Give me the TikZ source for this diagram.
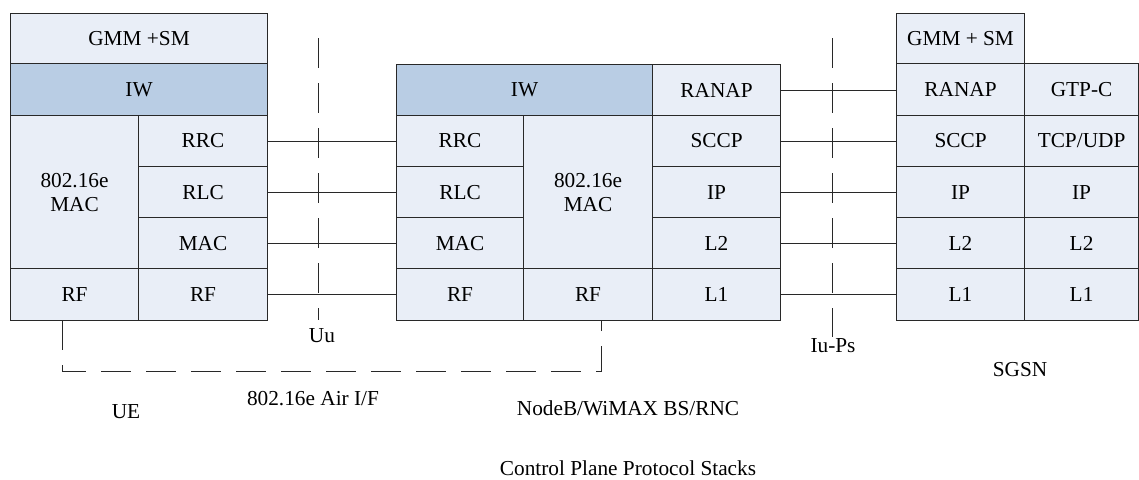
\documentclass[tikz,border=0pt]{standalone}
\usepackage{fontspec}
\setmainfont{Liberation Serif}
\definecolor{cellfill}{RGB}{233,238,247}
\definecolor{iwfill}{RGB}{185,205,228}
\definecolor{edge}{RGB}{40,40,40}
\tikzset{
  txt/.style={font=\fontsize{21.3}{24}\selectfont, inner sep=0pt},
  cell/.style={txt, draw=edge, line width=1.1pt, fill=cellfill, anchor=north west, align=center},
  iwcell/.style={cell, fill=iwfill},
  link/.style={draw=edge, line width=1pt},
  iface/.style={draw=edge, line width=1pt, dash pattern=on 30pt off 15pt},
}
\begin{document}
\begin{tikzpicture}[x=1pt,y=-1pt]
\useasboundingbox (0,0) rectangle (1139,479);
% UE stack
\node[cell, minimum width=257pt, minimum height=50pt] (ue-gmm) at (10,13) {GMM +SM};
\node[iwcell, minimum width=257pt, minimum height=52pt] (ue-iw) at (10,63) {IW};
\node[cell, minimum width=128pt, minimum height=153pt] (ue-mac16) at (10,115) {802.16e\\MAC};
\node[cell, minimum width=129pt, minimum height=51pt] (ue-rrc) at (138,115) {RRC};
\node[cell, minimum width=129pt, minimum height=51pt] (ue-rlc) at (138,166) {RLC};
\node[cell, minimum width=129pt, minimum height=51pt] (ue-mac) at (138,217) {MAC};
\node[cell, minimum width=128pt, minimum height=52pt] (ue-rf1) at (10,268) {RF};
\node[cell, minimum width=129pt, minimum height=52pt] (ue-rf2) at (138,268) {RF};
% NodeB stack
\node[iwcell, minimum width=256pt, minimum height=51pt] (nb-iw) at (396,64) {IW};
\node[cell, minimum width=128pt, minimum height=51pt] (nb-ranap) at (652,64) {RANAP};
\node[cell, minimum width=127pt, minimum height=51pt] (nb-rrc) at (396,115) {RRC};
\node[cell, minimum width=127pt, minimum height=51pt] (nb-rlc) at (396,166) {RLC};
\node[cell, minimum width=127pt, minimum height=51pt] (nb-mac) at (396,217) {MAC};
\node[cell, minimum width=127pt, minimum height=52pt] (nb-rf1) at (396,268) {RF};
\node[cell, minimum width=129pt, minimum height=153pt] (nb-mac16) at (523,115) {802.16e\\MAC};
\node[cell, minimum width=129pt, minimum height=52pt] (nb-rf2) at (523,268) {RF};
\node[cell, minimum width=128pt, minimum height=51pt] (nb-sccp) at (652,115) {SCCP};
\node[cell, minimum width=128pt, minimum height=51pt] (nb-ip) at (652,166) {IP};
\node[cell, minimum width=128pt, minimum height=51pt] (nb-l2) at (652,217) {L2};
\node[cell, minimum width=128pt, minimum height=52pt] (nb-l1) at (652,268) {L1};
% SGSN stack
\node[cell, minimum width=128pt, minimum height=50pt] (sg-gmm) at (896,13) {GMM + SM};
\node[cell, minimum width=128pt, minimum height=52pt] (sg-ranap) at (896,63) {RANAP};
\node[cell, minimum width=114pt, minimum height=52pt] (sg-gtp) at (1024,63) {GTP-C};
\node[cell, minimum width=128pt, minimum height=51pt] (sg-sccp) at (896,115) {SCCP};
\node[cell, minimum width=114pt, minimum height=51pt] (sg-tcp) at (1024,115) {TCP/UDP};
\node[cell, minimum width=128pt, minimum height=51pt] (sg-ip) at (896,166) {IP};
\node[cell, minimum width=114pt, minimum height=51pt] (sg-ip2) at (1024,166) {IP};
\node[cell, minimum width=128pt, minimum height=51pt] (sg-l2) at (896,217) {L2};
\node[cell, minimum width=114pt, minimum height=51pt] (sg-l22) at (1024,217) {L2};
\node[cell, minimum width=128pt, minimum height=52pt] (sg-l1) at (896,268) {L1};
\node[cell, minimum width=114pt, minimum height=52pt] (sg-l12) at (1024,268) {L1};
% peer links
\draw[link] (ue-rrc.east) -- (ue-rrc.east -| nb-rrc.west);
\draw[link] (ue-rlc.east) -- (ue-rlc.east -| nb-rlc.west);
\draw[link] (ue-mac.east) -- (ue-mac.east -| nb-mac.west);
\draw[link] (ue-rf2.east) -- (ue-rf2.east -| nb-rf1.west);
\draw[link] (nb-ranap.east) -- (nb-ranap.east -| sg-ranap.west);
\draw[link] (nb-sccp.east) -- (nb-sccp.east -| sg-sccp.west);
\draw[link] (nb-ip.east) -- (nb-ip.east -| sg-ip.west);
\draw[link] (nb-l2.east) -- (nb-l2.east -| sg-l2.west);
\draw[link] (nb-l1.east) -- (nb-l1.east -| sg-l1.west);
% interfaces
\coordinate (uu-top) at (318,38);
\coordinate (uu-bot) at (318,320);
\draw[iface] (uu-top) -- (uu-bot);
\coordinate (iu-top) at (832,38);
\coordinate (iu-bot) at (832,337);
\draw[iface] (iu-top) -- (iu-bot);
\coordinate (air-a) at (62,320);
\coordinate (air-b) at (62,371);
\coordinate (air-c) at (601,371);
\coordinate (air-d) at (601,320);
\draw[iface] (air-a) -- (air-b) -- (air-c) -- (air-d);
% labels
\node[txt] (uu) at (322,336) {Uu};
\node[txt] (iups) at (833,346) {Iu-Ps};
\node[txt] (ue) at (126,412) {UE};
\node[txt] (air) at (313,399) {802.16e Air I/F};
\node[txt] (nb) at (628,408) {NodeB/WiMAX BS/RNC};
\node[txt] (sgsn) at (1020,370) {SGSN};
\node[txt] (title) at (628,468) {Control Plane Protocol Stacks};
\end{tikzpicture}
\end{document}
